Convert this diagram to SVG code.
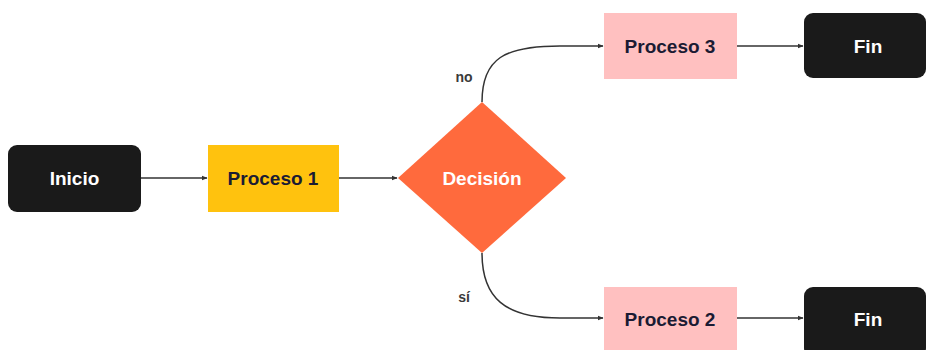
<svg xmlns="http://www.w3.org/2000/svg" width="928" height="350" viewBox="0 0 928 350">
  <defs>
    <marker id="arrow" viewBox="0 0 10 10" refX="9" refY="5" markerWidth="6" markerHeight="6" orient="auto" markerUnits="userSpaceOnUse">
      <path d="M0,1 L10,5 L0,9 z" fill="#333"/>
    </marker>
    <style>
      .lbl { font-family: "Liberation Sans", Arial, sans-serif; font-weight: bold; font-size: 19px; text-anchor: middle; dominant-baseline: central; }
      .light { fill: #ffffff; }
      .dark { fill: #1b1b33; }
      .edge { fill: none; stroke: #333; stroke-width: 1.5; marker-end: url(#arrow); }
      .elbl { font-family: "Liberation Sans", Arial, sans-serif; font-weight: bold; font-size: 14px; fill: #3a3a3a; text-anchor: middle; dominant-baseline: central; }
      .term { fill: #1a1a1a; }
      .proc { fill: #ffc0c0; }
    </style>
  </defs>
  <rect width="928" height="350" fill="#ffffff"/>

  <g id="connectors">
    <path class="edge" d="M141,178 L207,178"/>
    <path class="edge" d="M339,178 L397,178"/>
    <path class="edge" d="M482,102 C482,58 505,46 560,46 L603,46"/>
    <path class="edge" d="M482,253 C482,298 505,318 560,318 L603,318"/>
    <path class="edge" d="M737,46 L803,46"/>
    <path class="edge" d="M737,318 L803,318"/>
    <text class="elbl" x="464" y="77">no</text>
    <text class="elbl" x="464" y="297">sí</text>
  </g>

  <g id="inicio">
    <rect class="term" x="8" y="145" width="133" height="67" rx="9"/>
    <text class="lbl light" x="74.5" y="178.5">Inicio</text>
  </g>

  <g id="proceso1">
    <rect x="208" y="145" width="131" height="67" fill="#ffc20e"/>
    <text class="lbl dark" x="273" y="178.5">Proceso 1</text>
  </g>

  <g id="decision">
    <polygon points="482,102 566,178 482,253 398,178" fill="#ff6a3d"/>
    <text class="lbl light" x="482" y="178.5">Decisión</text>
  </g>

  <g id="proceso3">
    <rect class="proc" x="604" y="13" width="133" height="66"/>
    <text class="lbl dark" x="670" y="46">Proceso 3</text>
  </g>

  <g id="fin1">
    <rect class="term" x="804" y="13" width="122" height="65" rx="9"/>
    <text class="lbl light" x="868" y="46">Fin</text>
  </g>

  <g id="proceso2">
    <rect class="proc" x="604" y="287" width="133" height="66"/>
    <text class="lbl dark" x="670" y="319.5">Proceso 2</text>
  </g>

  <g id="fin2">
    <rect class="term" x="804" y="287" width="122" height="70" rx="9"/>
    <text class="lbl light" x="868" y="319.5">Fin</text>
  </g>
</svg>
